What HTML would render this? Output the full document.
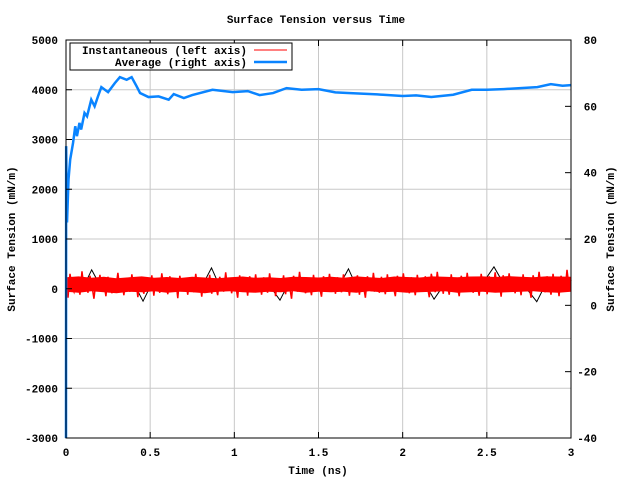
<!DOCTYPE html>
<html><head><meta charset="utf-8"><style>
body{margin:0;background:#fff}
svg{display:block;font-family:"Liberation Mono",monospace;font-size:11px;font-weight:bold}
</style></head><body>
<svg id="chart" width="640" height="480" viewBox="0 0 640 480">
<rect width="640" height="480" fill="#fff"/>
<text x="316" y="23" text-anchor="middle">Surface Tension versus Time</text>
<g id="grid"></g>
<g id="series"></g>
<g id="axes"></g>
<text x="318" y="474" text-anchor="middle">Time (ns)</text>
<text transform="translate(15,239) rotate(-90)" text-anchor="middle">Surface Tension (mN/m)</text>
<text transform="translate(614,239) rotate(-90)" text-anchor="middle">Surface Tension (mN/m)</text>
<g>
<rect x="70" y="43" width="222" height="27" fill="#fff" stroke="#000"/>
<text x="247" y="54" text-anchor="end">Instantaneous (left axis)</text>
<line x1="254" y1="50" x2="287" y2="50" stroke="#f00" stroke-width="1"/>
<text x="247" y="66" text-anchor="end">Average (right axis)</text>
<line x1="254" y1="62" x2="287" y2="62" stroke="#0a84ff" stroke-width="2.5"/>
</g>
</svg>
<script>
const xTicks=[0,0.5,1,1.5,2,2.5,3];
const xTickLabels=["0","0.5","1","1.5","2","2.5","3"];
const yLeftTicks=[-3000,-2000,-1000,0,1000,2000,3000,4000,5000];
const yRightTicks=[-40,-20,0,20,40,60,80];
const avgTimes=[0,0.001,0.006,0.015,0.025,0.042,0.055,0.065,0.08,0.09,0.11,0.125,0.15,0.17,0.19,0.21,0.25,0.29,0.32,0.36,0.39,0.42,0.44,0.49,0.55,0.61,0.64,0.70,0.75,0.87,0.99,1.08,1.15,1.23,1.31,1.4,1.5,1.6,1.69,1.85,2.0,2.08,2.17,2.3,2.41,2.5,2.6,2.7,2.8,2.88,2.95,3.0];
const avgValues=[-40,48,25,38,44,49,54,51,55,53,58,57,62,60,63,65.8,64.3,67,68.8,68,68.8,66,64,62.8,63,62,63.7,62.5,63.4,65,64.3,64.6,63.4,64,65.5,65,65.2,64.2,64,63.6,63.1,63.3,62.8,63.5,65,65,65.2,65.5,65.8,66.7,66.2,66.4];
const redValues=[120,-180,300,40,-60,220,90,-120,350,10,180,-80,260,60,-200,150,20,280,-40,110,-150,240,70,-90,190,30,320,-20,130,-130,210,80,-60,290,0,160,-170,230,50,-100,170,110,-30,270,-140,200,40,-80,310,20,150,-110,250,90,-50,180,-190,260,60,-20,140,-120,230,100,-70,300,10,170,-160,220,70,-40,280,-100,190,50,-130,240,120,-60,330,0,160,-90,210,80,-180,270,40,-20,190,-140,250,110,-50,290,-10,150,-120,230,60,-80,310,30,170,-150,200,90,-30,270,-110,180,50,-200,260,100,-60,340,20,140,-90,220,70,-130,280,-10,190,40,-160,250,120,-40,300,0,170,-100,230,80,-70,290,30,160,-140,210,100,-20,270,-120,190,60,-180,250,110,-50,320,10,150,-80,240,70,-110,290,-30,200,40,-150,260,120,-60,310,20,170,-90,230,90,-130,280,0,180,-40,250,60,-170,300,110,-70,340,30,160,-100,220,80,-120,290,-10,190,50,-150,260,130,-50,320,0,170,-80,240,90,-140,300,20,180,-110,250,70,-30,330,40,150,-160,270,100,-60,310,10,190,-90,230,120,-130,290,-20,200,60,-180,270,110,-40,340,30,160,-70,250,80,-120,300,10,210,-150,260,130,-50,380,40,180];
const redUpper=[230,250,220,240,210,230,250,220,235,215,240,225,210,230,245,220,230,215,240,235,225,240,220,250,230,215,245,235,225,250,240,230,245,250,235,255,240,230,250,245,240];
const redLower=[-60,-80,-50,-70,-90,-60,-70,-50,-80,-60,-70,-90,-60,-50,-70,-80,-60,-70,-50,-80,-60,-70,-60,-80,-50,-70,-60,-80,-70,-60,-50,-80,-70,-60,-80,-70,-60,-50,-70,-80,-60];
const blackValues=[0,150,20,380,60,120,-40,200,80,-250,100,180,40,160,-20,220,90,420,30,140,-60,190,70,120,10,-230,110,170,50,140,-30,210,80,400,20,150,-50,180,60,130,-10,200,90,-210,40,160,70,110,0,190,440,140,30,170,-40,-260,80,150,20,120];
const X0=66,X1=571,Y0=438,Y1=40;
const sx=t=>X0+(t-0)/(3-0)*(X1-X0);
const syL=v=>Y0-(v+3000)/8000*(Y0-Y1);
const syR=v=>Y0-(v+40)/120*(Y0-Y1);
const NS="http://www.w3.org/2000/svg";
const mk=(p,tag,attrs)=>{const e=document.createElementNS(NS,tag);for(const k in attrs)e.setAttribute(k,attrs[k]);p.appendChild(e);return e;};
const grid=document.getElementById('grid'),axes=document.getElementById('axes'),ser=document.getElementById('series');
xTicks.forEach((t,i)=>{const x=sx(t);
 if(i>0&&i<xTicks.length-1){const g=mk(grid,'line',{x1:x,y1:Y1,x2:x,y2:Y0,stroke:'#c8c8c8'});
 
 }
 mk(axes,'line',{x1:x,y1:Y0,x2:x,y2:Y0-6,stroke:'#000'});mk(axes,'line',{x1:x,y1:Y1,x2:x,y2:Y1+6,stroke:'#000'});
 const tx=mk(axes,'text',{x:x,y:Y0+18,'text-anchor':'middle'});tx.textContent=xTickLabels[i];
 
 });
yLeftTicks.forEach((v,i)=>{const y=syL(v);
 if(i>0&&i<yLeftTicks.length-1){const g=mk(grid,'line',{x1:X0,y1:y,x2:X1,y2:y,stroke:'#c8c8c8'});
 
 }
 mk(axes,'line',{x1:X0,y1:y,x2:X0+6,y2:y,stroke:'#000'});
 const tx=mk(axes,'text',{x:X0-8,y:y+4,'text-anchor':'end'});tx.textContent=String(v);
 
 });
yRightTicks.forEach(v=>{const y=syR(v);
 mk(axes,'line',{x1:X1,y1:y,x2:X1-6,y2:y,stroke:'#000'});
 const tx=mk(axes,'text',{x:X1+26,y:y+4,'text-anchor':'end'});tx.textContent=String(v);
 
 });
const frame=mk(axes,'rect',{x:X0,y:Y1,width:X1-X0,height:Y0-Y1,fill:'none',stroke:'#000'});


const poly=(vals,times,sy,color,w,name)=>{const pts=vals.map((v,i)=>sx(times(i))+','+sy(v)).join(' ');
 const p=mk(ser,'polyline',{points:pts,fill:'none',stroke:color,'stroke-width':w,'stroke-linejoin':'miter'});
 
 };
poly(blackValues,i=>i/(blackValues.length-1)*3,syL,'#000',1,'series-instantaneous-black');
const env=redUpper.map((v,i)=>sx(i/(redUpper.length-1)*3)+','+syL(v)).concat(redLower.map((v,i)=>sx(i/(redLower.length-1)*3)+','+syL(v)).reverse()).join(' ');
const band=mk(ser,'polygon',{points:env,fill:'#f00'});


poly(redValues,i=>i/(redValues.length-1)*3,syL,'#f00',1.5,'series-instantaneous');
poly(avgValues,i=>avgTimes[i],syR,'#0a84ff',2.5,'series-average');
</script>
</body></html>
